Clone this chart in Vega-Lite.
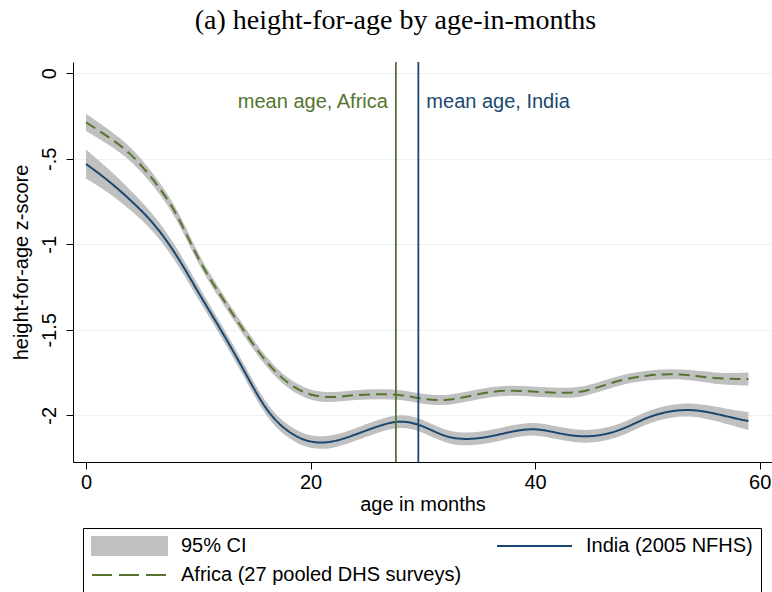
{
  "$schema": "https://vega.github.io/schema/vega-lite/v6.json",
  "width": 699,
  "height": 400,
  "autosize": {"type": "none"},
  "padding": {"left": 73, "top": 62, "right": 0, "bottom": 130},
  "title": {"text": "(a) height-for-age by age-in-months", "font": "Liberation Serif", "fontSize": 28, "fontWeight": "normal", "color": "black", "anchor": "middle", "offset": 26, "dx": -27},
  "config": {
    "view": {"stroke": null},
    "font": "Liberation Sans",
    "axis": {"labelFont": "Liberation Sans", "titleFont": "Liberation Sans", "labelFontSize": 20, "titleFontSize": 20, "labelColor": "black", "titleColor": "black", "titleFontWeight": "normal", "domainColor": "black", "tickColor": "black", "tickSize": 7, "domainWidth": 1, "tickWidth": 1}
  },
  "datasets": {
    "curves": [
      {"age": 0, "series": "India (2005 NFHS)", "z": -0.53, "lo": -0.615, "hi": -0.445},
      {"age": 2, "series": "India (2005 NFHS)", "z": -0.63, "lo": -0.7, "hi": -0.56},
      {"age": 4, "series": "India (2005 NFHS)", "z": -0.745, "lo": -0.803, "hi": -0.687},
      {"age": 6, "series": "India (2005 NFHS)", "z": -0.88, "lo": -0.93, "hi": -0.83},
      {"age": 8, "series": "India (2005 NFHS)", "z": -1.06, "lo": -1.105, "hi": -1.015},
      {"age": 10, "series": "India (2005 NFHS)", "z": -1.28, "lo": -1.32, "hi": -1.24},
      {"age": 12, "series": "India (2005 NFHS)", "z": -1.5, "lo": -1.537, "hi": -1.463},
      {"age": 14, "series": "India (2005 NFHS)", "z": -1.73, "lo": -1.767, "hi": -1.693},
      {"age": 16, "series": "India (2005 NFHS)", "z": -1.955, "lo": -1.992, "hi": -1.918},
      {"age": 18, "series": "India (2005 NFHS)", "z": -2.092, "lo": -2.129, "hi": -2.055},
      {"age": 20, "series": "India (2005 NFHS)", "z": -2.153, "lo": -2.19, "hi": -2.116},
      {"age": 22, "series": "India (2005 NFHS)", "z": -2.152, "lo": -2.189, "hi": -2.115},
      {"age": 24, "series": "India (2005 NFHS)", "z": -2.112, "lo": -2.149, "hi": -2.075},
      {"age": 26, "series": "India (2005 NFHS)", "z": -2.065, "lo": -2.102, "hi": -2.028},
      {"age": 28, "series": "India (2005 NFHS)", "z": -2.037, "lo": -2.074, "hi": -2.0},
      {"age": 30, "series": "India (2005 NFHS)", "z": -2.065, "lo": -2.102, "hi": -2.028},
      {"age": 32, "series": "India (2005 NFHS)", "z": -2.12, "lo": -2.157, "hi": -2.083},
      {"age": 34, "series": "India (2005 NFHS)", "z": -2.138, "lo": -2.175, "hi": -2.101},
      {"age": 36, "series": "India (2005 NFHS)", "z": -2.123, "lo": -2.16, "hi": -2.086},
      {"age": 38, "series": "India (2005 NFHS)", "z": -2.095, "lo": -2.132, "hi": -2.058},
      {"age": 40, "series": "India (2005 NFHS)", "z": -2.082, "lo": -2.119, "hi": -2.045},
      {"age": 42, "series": "India (2005 NFHS)", "z": -2.103, "lo": -2.14, "hi": -2.066},
      {"age": 44, "series": "India (2005 NFHS)", "z": -2.122, "lo": -2.159, "hi": -2.085},
      {"age": 46, "series": "India (2005 NFHS)", "z": -2.113, "lo": -2.15, "hi": -2.076},
      {"age": 48, "series": "India (2005 NFHS)", "z": -2.073, "lo": -2.11, "hi": -2.036},
      {"age": 50, "series": "India (2005 NFHS)", "z": -2.015, "lo": -2.052, "hi": -1.978},
      {"age": 52, "series": "India (2005 NFHS)", "z": -1.978, "lo": -2.015, "hi": -1.941},
      {"age": 54, "series": "India (2005 NFHS)", "z": -1.97, "lo": -2.008, "hi": -1.932},
      {"age": 56, "series": "India (2005 NFHS)", "z": -1.99, "lo": -2.032, "hi": -1.948},
      {"age": 58, "series": "India (2005 NFHS)", "z": -2.02, "lo": -2.068, "hi": -1.972},
      {"age": 59, "series": "India (2005 NFHS)", "z": -2.033, "lo": -2.085, "hi": -1.981},
      {"age": 0, "series": "Africa (27 pooled DHS surveys)", "z": -0.287, "lo": -0.337, "hi": -0.237},
      {"age": 2, "series": "Africa (27 pooled DHS surveys)", "z": -0.373, "lo": -0.418, "hi": -0.328},
      {"age": 4, "series": "Africa (27 pooled DHS surveys)", "z": -0.477, "lo": -0.517, "hi": -0.437},
      {"age": 6, "series": "Africa (27 pooled DHS surveys)", "z": -0.625, "lo": -0.66, "hi": -0.59},
      {"age": 8, "series": "Africa (27 pooled DHS surveys)", "z": -0.82, "lo": -0.852, "hi": -0.788},
      {"age": 10, "series": "Africa (27 pooled DHS surveys)", "z": -1.08, "lo": -1.11, "hi": -1.05},
      {"age": 12, "series": "Africa (27 pooled DHS surveys)", "z": -1.3, "lo": -1.329, "hi": -1.271},
      {"age": 14, "series": "Africa (27 pooled DHS surveys)", "z": -1.5, "lo": -1.529, "hi": -1.471},
      {"age": 16, "series": "Africa (27 pooled DHS surveys)", "z": -1.68, "lo": -1.709, "hi": -1.651},
      {"age": 18, "series": "Africa (27 pooled DHS surveys)", "z": -1.81, "lo": -1.839, "hi": -1.781},
      {"age": 20, "series": "Africa (27 pooled DHS surveys)", "z": -1.878, "lo": -1.907, "hi": -1.849},
      {"age": 22, "series": "Africa (27 pooled DHS surveys)", "z": -1.893, "lo": -1.922, "hi": -1.864},
      {"age": 24, "series": "Africa (27 pooled DHS surveys)", "z": -1.882, "lo": -1.911, "hi": -1.853},
      {"age": 26, "series": "Africa (27 pooled DHS surveys)", "z": -1.877, "lo": -1.906, "hi": -1.848},
      {"age": 28, "series": "Africa (27 pooled DHS surveys)", "z": -1.882, "lo": -1.911, "hi": -1.853},
      {"age": 30, "series": "Africa (27 pooled DHS surveys)", "z": -1.903, "lo": -1.932, "hi": -1.874},
      {"age": 32, "series": "Africa (27 pooled DHS surveys)", "z": -1.91, "lo": -1.939, "hi": -1.881},
      {"age": 34, "series": "Africa (27 pooled DHS surveys)", "z": -1.89, "lo": -1.919, "hi": -1.861},
      {"age": 36, "series": "Africa (27 pooled DHS surveys)", "z": -1.865, "lo": -1.894, "hi": -1.836},
      {"age": 38, "series": "Africa (27 pooled DHS surveys)", "z": -1.856, "lo": -1.885, "hi": -1.827},
      {"age": 40, "series": "Africa (27 pooled DHS surveys)", "z": -1.862, "lo": -1.891, "hi": -1.833},
      {"age": 42, "series": "Africa (27 pooled DHS surveys)", "z": -1.868, "lo": -1.897, "hi": -1.839},
      {"age": 44, "series": "Africa (27 pooled DHS surveys)", "z": -1.862, "lo": -1.891, "hi": -1.833},
      {"age": 46, "series": "Africa (27 pooled DHS surveys)", "z": -1.828, "lo": -1.857, "hi": -1.799},
      {"age": 48, "series": "Africa (27 pooled DHS surveys)", "z": -1.79, "lo": -1.819, "hi": -1.761},
      {"age": 50, "series": "Africa (27 pooled DHS surveys)", "z": -1.768, "lo": -1.797, "hi": -1.739},
      {"age": 52, "series": "Africa (27 pooled DHS surveys)", "z": -1.76, "lo": -1.789, "hi": -1.731},
      {"age": 54, "series": "Africa (27 pooled DHS surveys)", "z": -1.767, "lo": -1.797, "hi": -1.737},
      {"age": 56, "series": "Africa (27 pooled DHS surveys)", "z": -1.782, "lo": -1.815, "hi": -1.749},
      {"age": 58, "series": "Africa (27 pooled DHS surveys)", "z": -1.788, "lo": -1.824, "hi": -1.752},
      {"age": 59, "series": "Africa (27 pooled DHS surveys)", "z": -1.788, "lo": -1.826, "hi": -1.75}
    ],
    "means": [
      {"age": 27.6, "group": "Africa", "label": "mean age, Africa", "ypos": -0.17},
      {"age": 29.6, "group": "India", "label": "mean age, India", "ypos": -0.17}
    ]
  },
  "layer": [
    {
      "data": {"name": "curves"},
      "mark": {"type": "area", "interpolate": "natural", "color": "#c0c0c0", "opacity": 1},
      "encoding": {
        "x": {"field": "age", "type": "quantitative", "title": "age in months",
              "scale": {"domain": [-1.16, 61.1], "nice": false, "zero": false},
              "axis": {"values": [0, 20, 40, 60], "grid": false, "labelPadding": 3, "titlePadding": 2}},
        "y": {"field": "lo", "type": "quantitative", "title": "height-for-age z-score",
              "scale": {"domain": [-2.273, 0.066], "nice": false, "zero": false},
              "axis": {"values": [0, -0.5, -1, -1.5, -2], "grid": true, "gridColor": "#eaf2f3", "gridWidth": 1,
                       "labelAngle": -90, "labelPadding": 7, "titlePadding": 8,
                       "labelExpr": "replace(toString(datum.value), '0.', '.')"}},
        "y2": {"field": "hi"},
        "detail": {"field": "series"}
      }
    },
    {
      "data": {"name": "curves"},
      "mark": {"type": "line", "interpolate": "natural", "strokeWidth": 2},
      "encoding": {
        "x": {"field": "age", "type": "quantitative"},
        "y": {"field": "z", "type": "quantitative"},
        "color": {"field": "series", "type": "nominal",
                  "scale": {"domain": ["95% CI", "India (2005 NFHS)", "Africa (27 pooled DHS surveys)"], "range": ["#c0c0c0", "#1a476f", "#55752f"]},
                  "legend": {
                    "orient": "none", "legendX": 10, "legendY": 466, "direction": "horizontal", "columns": 2, "title": null,
                    "labelFont": "Liberation Sans", "labelFontSize": 20, "labelColor": "black", "labelOffset": 13, "labelLimit": 500,
                    "symbolSize": 5625, "clipHeight": 20, "rowPadding": 9, "columnPadding": 34,
                    "padding": 8, "strokeColor": "black",
                    "encode": {
                      "symbols": {"update": {
                        "shape": {"signal": "datum.value === '95% CI' ? 'M-1,-0.27H1V0.27H-1Z' : 'M-1,0H1'"},
                        "fill": {"signal": "datum.value === '95% CI' ? '#c0c0c0' : 'transparent'"},
                        "stroke": {"signal": "datum.value === '95% CI' ? 'transparent' : (datum.value === 'India (2005 NFHS)' ? '#1a476f' : '#55752f')"},
                        "strokeDash": {"signal": "datum.value === 'Africa (27 pooled DHS surveys)' ? [20, 7] : [1, 0]"},
                        "strokeWidth": {"value": 2},
                        "opacity": {"value": 1}
                      }}
                    }
                  }},
        "strokeDash": {"field": "series", "type": "nominal",
                       "scale": {"domain": ["India (2005 NFHS)", "Africa (27 pooled DHS surveys)"], "range": [[1, 0], [11, 6]]},
                       "legend": null}
      }
    },
    {
      "data": {"name": "means"},
      "mark": {"type": "rule", "strokeWidth": 1.8},
      "encoding": {
        "x": {"field": "age", "type": "quantitative"},
        "color": {"condition": {"test": "datum.group === 'Africa'", "value": "#55752f"}, "value": "#1a476f"}
      }
    },
    {
      "data": {"name": "means"},
      "transform": [{"filter": "datum.group === 'Africa'"}],
      "mark": {"type": "text", "align": "right", "baseline": "middle", "dx": -8, "fontSize": 20, "font": "Liberation Sans", "color": "#55752f"},
      "encoding": {
        "x": {"field": "age", "type": "quantitative"},
        "y": {"field": "ypos", "type": "quantitative"},
        "text": {"field": "label"}
      }
    },
    {
      "data": {"name": "means"},
      "transform": [{"filter": "datum.group === 'India'"}],
      "mark": {"type": "text", "align": "left", "baseline": "middle", "dx": 8, "fontSize": 20, "font": "Liberation Sans", "color": "#1a476f"},
      "encoding": {
        "x": {"field": "age", "type": "quantitative"},
        "y": {"field": "ypos", "type": "quantitative"},
        "text": {"field": "label"}
      }
    }
  ]
}
